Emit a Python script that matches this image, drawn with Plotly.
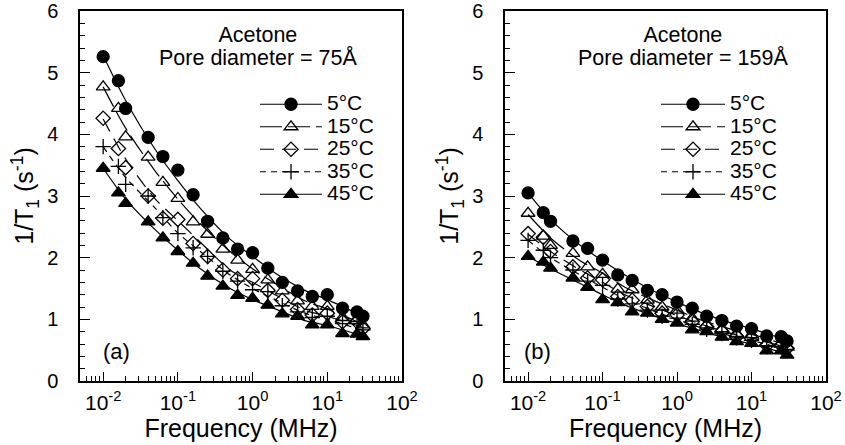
import plotly.graph_objects as go

# ---------------- data ----------------
freq = [0.01, 0.016, 0.02, 0.04, 0.063, 0.1, 0.16, 0.25, 0.4, 0.63,
        1.0, 1.6, 2.5, 4.0, 6.3, 10, 16, 25, 30]
temps = ["5°C", "15°C", "25°C", "35°C", "45°C"]

a_5 = [5.26, 4.87, 4.42, 3.95, 3.64, 3.42, 3.02, 2.59, 2.32, 2.14, 2.08, 1.83, 1.60, 1.46, 1.37, 1.40, 1.18, 1.12, 1.05]
a_15 = [4.77, 4.42, 3.96, 3.63, 3.22, 2.96, 2.58, 2.38, 2.14, 1.96, 1.81, 1.64, 1.46, 1.30, 1.21, 1.21, 1.03, 1.01, 0.91]
a_25 = [4.26, 3.77, 3.46, 3.00, 2.64, 2.62, 2.23, 2.02, 1.80, 1.66, 1.66, 1.47, 1.31, 1.16, 1.07, 1.10, 0.96, 0.96, 0.85]
a_35 = [3.80, 3.48, 3.19, 3.00, 2.65, 2.39, 2.16, 2.02, 1.78, 1.62, 1.48, 1.45, 1.22, 1.12, 1.03, 1.05, 0.93, 0.93, 0.83]
a_45 = [3.45, 3.05, 2.88, 2.58, 2.32, 2.10, 1.91, 1.70, 1.54, 1.39, 1.34, 1.23, 1.09, 1.05, 0.91, 0.91, 0.77, 0.76, 0.72]

b_5 = [3.05, 2.73, 2.59, 2.27, 2.15, 1.96, 1.72, 1.63, 1.47, 1.40, 1.28, 1.18, 1.05, 0.98, 0.89, 0.85, 0.73, 0.72, 0.65]
b_15 = [2.72, 2.35, 2.20, 2.07, 1.85, 1.73, 1.49, 1.48, 1.31, 1.20, 1.15, 1.02, 0.91, 0.85, 0.77, 0.75, 0.62, 0.61, 0.56]
b_25 = [2.39, 2.33, 2.10, 1.85, 1.67, 1.64, 1.37, 1.31, 1.21, 1.10, 1.07, 0.96, 0.88, 0.80, 0.72, 0.69, 0.58, 0.58, 0.53]
b_35 = [2.28, 2.12, 2.00, 1.80, 1.62, 1.55, 1.33, 1.25, 1.15, 1.05, 1.02, 0.92, 0.84, 0.77, 0.70, 0.66, 0.56, 0.55, 0.50]
b_45 = [2.02, 1.93, 1.83, 1.67, 1.52, 1.32, 1.27, 1.12, 1.10, 1.00, 0.94, 0.83, 0.80, 0.71, 0.64, 0.61, 0.49, 0.49, 0.42]

# fitted curves, read at a few frequencies
fit_freq = [0.01, 0.02, 0.05, 0.1, 0.2, 0.5, 1, 2, 5, 10, 30]
fa_5 = [5.28, 4.55, 3.75, 3.25, 2.80, 2.30, 2.02, 1.75, 1.47, 1.32, 1.05]
fa_15 = [4.77, 4.10, 3.40, 2.95, 2.55, 2.10, 1.82, 1.58, 1.30, 1.17, 0.92]
fa_25 = [4.25, 3.60, 2.95, 2.60, 2.25, 1.80, 1.60, 1.40, 1.15, 1.05, 0.87]
fa_35 = [3.80, 3.30, 2.80, 2.40, 2.10, 1.72, 1.50, 1.32, 1.10, 1.00, 0.82]
fa_45 = [3.45, 2.95, 2.45, 2.12, 1.82, 1.50, 1.32, 1.17, 0.98, 0.90, 0.73]

fb_5 = [3.05, 2.62, 2.20, 1.95, 1.72, 1.45, 1.28, 1.12, 0.95, 0.85, 0.66]
fb_15 = [2.70, 2.32, 1.95, 1.75, 1.52, 1.30, 1.15, 1.00, 0.85, 0.76, 0.58]
fb_25 = [2.38, 2.10, 1.80, 1.60, 1.40, 1.20, 1.06, 0.93, 0.78, 0.70, 0.54]
fb_35 = [2.28, 2.00, 1.72, 1.52, 1.33, 1.13, 1.00, 0.87, 0.74, 0.66, 0.50]
fb_45 = [2.02, 1.82, 1.58, 1.40, 1.23, 1.05, 0.93, 0.82, 0.68, 0.60, 0.44]

x_tickvals = [0.01, 0.1, 1, 10, 100]
x_ticktext = ["10<sup>-2</sup>", "10<sup>-1</sup>", "10<sup>0</sup>", "10<sup>1</sup>", "10<sup>2</sup>"]
y_tickvals = [0, 1, 2, 3, 4, 5, 6]

# ---------------- styles ----------------
symbols = ["circle", "triangle-up-open", "diamond-open", "cross-thin-open", "triangle-up"]
msizes = [12, 12, 11, 11, 12]
dashes = ["solid", "22px,6px", "14px,8px", "6px,5px", "solid"]
FONT = "Arial, Liberation Sans, Helvetica, sans-serif"

fig = go.Figure()

panels = [
    ("x", "y", "legend", [a_5, a_15, a_25, a_35, a_45], [fa_5, fa_15, fa_25, fa_35, fa_45]),
    ("x2", "y2", "legend2", [b_5, b_15, b_25, b_35, b_45], [fb_5, fb_15, fb_25, fb_35, fb_45]),
]

for xa, ya, lg, series, fits in panels:
    for i, name in enumerate(temps):
        fig.add_trace(go.Scatter(
            x=fit_freq, y=fits[i], mode="lines", xaxis=xa, yaxis=ya,
            line=dict(color="black", width=1.2, dash=dashes[i], shape="spline", smoothing=0.8),
            showlegend=False, hoverinfo="skip"))
        fig.add_trace(go.Scatter(
            x=freq, y=series[i], mode="markers", xaxis=xa, yaxis=ya,
            marker=dict(symbol=symbols[i], size=msizes[i], color="black",
                        line=dict(color="black", width=1.3)),
            showlegend=False))
        # legend entry (line + marker)
        fig.add_trace(go.Scatter(
            x=[None], y=[None], mode="lines+markers", xaxis=xa, yaxis=ya,
            name='<span style="font-size:21px">' + name + '</span>',
            legend=lg,
            line=dict(color="black", width=1.2, dash=dashes[i]),
            marker=dict(symbol=symbols[i], size=msizes[i], color="black",
                        line=dict(color="black", width=1.3))))

minor_x = [m * 10 ** e for e in range(-3, 2) for m in range(2, 10)]

xaxis_common = dict(
    type="log", range=[-2.31, 2.0], tickmode="array", tickvals=x_tickvals, ticktext=x_ticktext,
    ticks="inside", ticklen=9, tickwidth=1.2, tickcolor="black",
    minor=dict(tickmode="array", tickvals=minor_x, ticks="inside", ticklen=5, tickwidth=1, tickcolor="black"),
    showline=True, linecolor="black", linewidth=1.5, mirror=True, showgrid=False, zeroline=False,
    tickfont=dict(family=FONT, size=21, color="black"), ticklabelstandoff=2,
    title=dict(text="Frequency (MHz)", font=dict(family=FONT, size=25, color="black"), standoff=0),
    automargin=False,
)
yaxis_common = dict(
    range=[0, 6], tickmode="array", tickvals=y_tickvals,
    ticks="inside", ticklen=10, tickwidth=1.2, tickcolor="black",
    minor=dict(dtick=0.2, ticks="inside", ticklen=5, tickwidth=1, tickcolor="black"),
    showline=True, linecolor="black", linewidth=1.5, mirror=True, showgrid=False, zeroline=False,
    tickfont=dict(family=FONT, size=20, color="black"), ticklabelstandoff=16,
    title=dict(text="1/T<sub>1</sub> (s<sup>-1</sup>)", font=dict(family=FONT, size=25, color="black"), standoff=6),
    automargin=False,
)

W, H = 845, 445
ml, mr, mt, mb = 80, 19, 11, 64
pw = W - ml - mr
ph = H - mt - mb


def px_to_paper(px, py):
    return (px - ml) / pw, 1 - (py - mt) / ph


lgx_a, lgy = px_to_paper(255, 88)
lgx_b, _ = px_to_paper(656, 88)

fig.update_layout(
    width=W, height=H,
    margin=dict(l=ml, r=mr, t=mt, b=mb),
    paper_bgcolor="white", plot_bgcolor="white",
    font=dict(family=FONT, color="black"),
    xaxis=dict(domain=[0, (402 - ml) / pw], anchor="y", **xaxis_common),
    xaxis2=dict(domain=[(505 - ml) / pw, 1], anchor="y2", **xaxis_common),
    yaxis=dict(domain=[0, 1], anchor="x", **yaxis_common),
    yaxis2=dict(domain=[0, 1], anchor="x2", **yaxis_common),
    legend=dict(x=lgx_a, y=lgy, xanchor="left", yanchor="top", xref="paper", yref="paper",
                bgcolor="rgba(0,0,0,0)", itemwidth=62, font=dict(family=FONT, size=15, color="black"),
                tracegroupgap=0, itemclick=False),
    legend2=dict(x=lgx_b, y=lgy, xanchor="left", yanchor="top", xref="paper", yref="paper",
                 bgcolor="rgba(0,0,0,0)", itemwidth=64, font=dict(family=FONT, size=15, color="black"),
                 tracegroupgap=0, itemclick=False),
)


def span(t, s=21.5):
    return '<span style="font-size:%spx">%s</span>' % (s, t)


annots = [
    (258, 46.5, span("Acetone") + "<br>" + span("Pore diameter = 75Å")),
    (683, 46.5, span("Acetone") + "<br>" + span("Pore diameter = 159Å")),
]
for px, py, txt in annots:
    ax_, ay_ = px_to_paper(px, py)
    fig.add_annotation(x=ax_, y=ay_, xref="paper", yref="paper", text=txt,
                       showarrow=False, font=dict(family=FONT, size=17.7, color="black"),
                       xanchor="center", yanchor="middle", align="center")
for px, py, txt in [(116, 351, "(a)"), (537, 351, "(b)")]:
    ax_, ay_ = px_to_paper(px, py)
    fig.add_annotation(x=ax_, y=ay_, xref="paper", yref="paper", text=txt,
                       showarrow=False, font=dict(family=FONT, size=22, color="black"),
                       xanchor="center", yanchor="middle")

fig.write_html("out.html", config={"displayModeBar": False},
               post_script="document.body.style.margin='0';document.body.style.overflow='hidden';")
